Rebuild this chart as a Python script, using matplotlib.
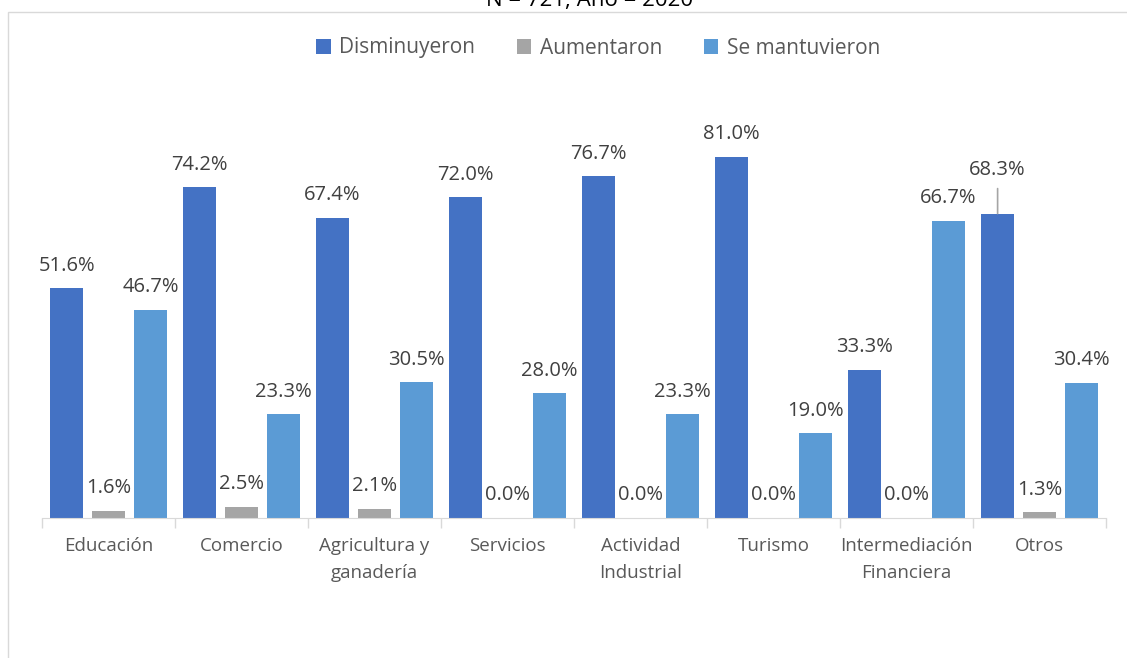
import matplotlib.pyplot as plt
import numpy as np
from matplotlib.patches import Rectangle

# data
categories = ['Educación', 'Comercio', 'Agricultura y\nganadería', 'Servicios',
              'Actividad\nIndustrial', 'Turismo', 'Intermediación\nFinanciera', 'Otros']
disminuyeron = [51.6, 74.2, 67.4, 72.0, 76.7, 81.0, 33.3, 68.3]
aumentaron = [1.6, 2.5, 2.1, 0.0, 0.0, 0.0, 0.0, 1.3]
se_mantuvieron = [46.7, 23.3, 30.5, 28.0, 23.3, 19.0, 66.7, 30.4]
series_names = ['Disminuyeron', 'Aumentaron', 'Se mantuvieron']
colors = ['#4472C4', '#A5A5A5', '#5B9BD5']

plt.rcParams['font.family'] = ['Open Sans', 'DejaVu Sans']

fig = plt.figure(figsize=(11.27, 6.58), dpi=100)
ax = fig.add_axes([42 / 1127, 140 / 658, 1064 / 1127, 445.7 / 658])

x = np.arange(len(categories))
w = 0.25
gap = 0.065
all_series = [disminuyeron, aumentaron, se_mantuvieron]
for i, vals in enumerate(all_series):
    pos = x + (i - 1) * (w + gap)
    ax.bar(pos, vals, width=w, color=colors[i], label=series_names[i])
    for j, v in enumerate(vals):
        if i == 0 and j == 7:
            # label moved up with a leader line
            ax.annotate(f'{v:.1f}%', xy=(pos[j], v), xytext=(0, 24), textcoords='offset points',
                        ha='center', va='bottom', fontsize=14.5, color='#404040',
                        arrowprops=dict(arrowstyle='-', color='#A5A5A5', lw=1.2, shrinkA=4, shrinkB=0))
        else:
            ax.annotate(f'{v:.1f}%', xy=(pos[j], v), xytext=(0, 9), textcoords='offset points',
                        ha='center', va='bottom', fontsize=14.5, color='#404040')

ax.set_xlim(-0.5, len(categories) - 0.5)
ax.set_ylim(0, 100)
ax.set_yticks([])
ax.set_xticks(x)
ax.set_xticklabels(categories, fontsize=13.5, color='#595959', linespacing=1.6)
ax.tick_params(axis='x', which='major', length=0, pad=14)
ax.set_xticks(np.arange(len(categories) + 1) - 0.5, minor=True)
ax.tick_params(axis='x', which='minor', length=7, color='#D9D9D9', width=1)
for s in ['top', 'right', 'left']:
    ax.spines[s].set_visible(False)
ax.spines['bottom'].set_color('#D9D9D9')

ax.legend(loc='center', bbox_to_anchor=(598 / 1127, 1 - 48 / 658), bbox_transform=fig.transFigure,
          ncol=3, frameon=False, fontsize=15, handlelength=0.7, handleheight=0.7,
          columnspacing=2.0, handletextpad=0.4, labelcolor='#595959')

# outer frame and clipped title
fig.patches.append(Rectangle((8 / 1127, -0.1), 1.2, 1.1 - 12 / 658, transform=fig.transFigure,
                             fill=False, edgecolor='#D9D9D9', lw=1))
fig.text(590 / 1127, 1 - 6 / 658, 'N = 721; Año = 2020', ha='center', va='baseline',
         fontsize=16, color='#000000')

fig.savefig('out.png', dpi=100)
